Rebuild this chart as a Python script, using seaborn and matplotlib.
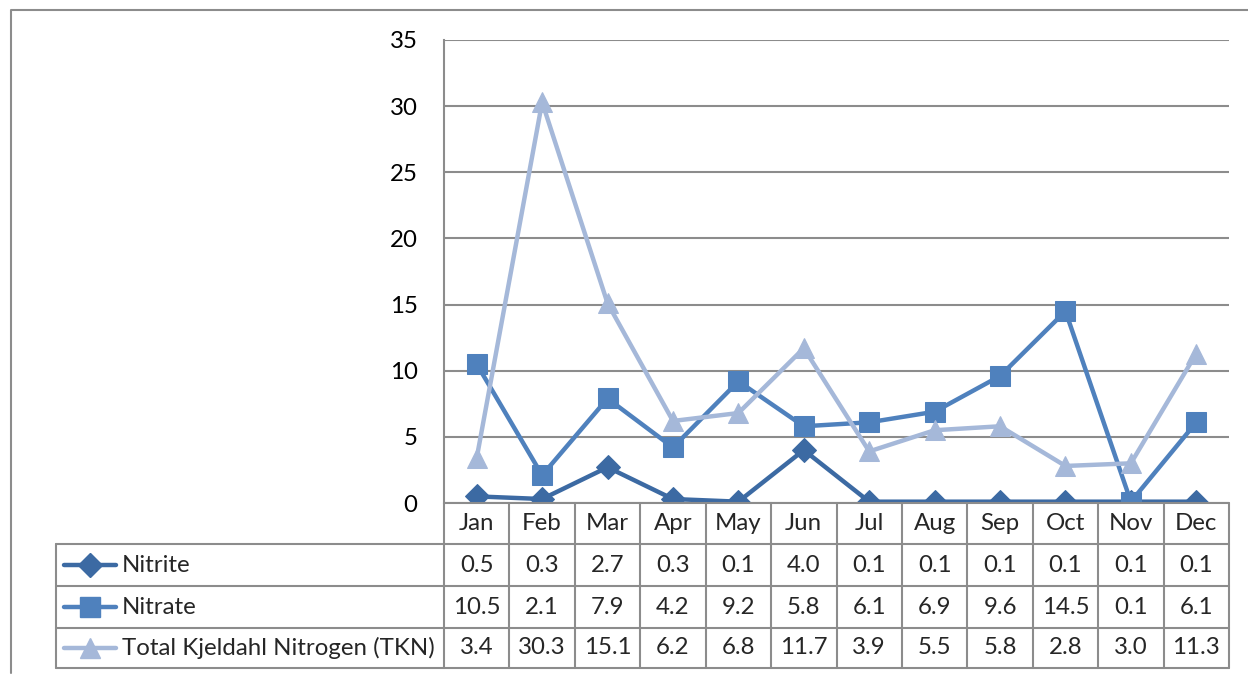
import numpy as np
import pandas as pd
import matplotlib
matplotlib.use('Agg')
import matplotlib.pyplot as plt
import seaborn as sns
from matplotlib.lines import Line2D

months = ['Jan', 'Feb', 'Mar', 'Apr', 'May', 'Jun', 'Jul', 'Aug', 'Sep', 'Oct', 'Nov', 'Dec']
nitrite = [0.5, 0.3, 2.7, 0.3, 0.1, 4.0, 0.1, 0.1, 0.1, 0.1, 0.1, 0.1]
nitrate = [10.5, 2.1, 7.9, 4.2, 9.2, 5.8, 6.1, 6.9, 9.6, 14.5, 0.1, 6.1]
tkn = [3.4, 30.3, 15.1, 6.2, 6.8, 11.7, 3.9, 5.5, 5.8, 2.8, 3.0, 11.3]
series_names = ['Nitrite', 'Nitrate', 'Total Kjeldahl Nitrogen (TKN)']
yticks = [0, 5, 10, 15, 20, 25, 30, 35]

colors = ['#3C6AA3', '#4F81BD', '#A5B8D9']
markers = ['D', 's', '^']
msizes = [12, 14, 15]

sns.set_style('white')
plt.rcParams['font.family'] = ['Lato', 'DejaVu Sans']
FS = 17.3
GRAY = '#8C8C8C'

W, H = 1248, 675
fig = plt.figure(figsize=(W / 100, H / 100), dpi=100)

# pixel helpers
def fx(px):
    return px / W

def fy(py):
    return 1 - py / H

x0, x1, y0, y1 = 444, 1229, 503, 40
ax = fig.add_axes([fx(x0), fy(y0), fx(x1) - fx(x0), fy(y1) - fy(y0)])

df = pd.DataFrame({'idx': np.arange(len(months)), 'Nitrite': nitrite,
                   'Nitrate': nitrate, 'Total Kjeldahl Nitrogen (TKN)': tkn})
for name, c, m, ms in zip(series_names, colors, markers, msizes):
    sns.lineplot(data=df, x='idx', y=name, ax=ax, color=c, marker=m,
                 markersize=ms, markeredgecolor=c, linewidth=3.2, zorder=3)

ax.set_xlim(-0.5, len(months) - 0.5)
ax.set_ylim(0, 35)
ax.set_yticks(yticks)
ax.set_yticklabels([str(v) for v in yticks], fontsize=FS, color='black')
ax.set_xticks([])
ax.set_xlabel('')
ax.set_ylabel('')
ax.tick_params(axis='y', length=5, color=GRAY, pad=14)
ax.grid(axis='y', color=GRAY, linewidth=1.5)
ax.set_axisbelow(True)
for s in ['top', 'right', 'bottom']:
    ax.spines[s].set_visible(False)
ax.spines['left'].set_color(GRAY)
ax.spines['left'].set_linewidth(1.5)

# data table below the axes
rows = [503, 544, 586, 628, 668]
left = 56
col_w = (x1 - x0) / len(months)
lk = dict(color=GRAY, linewidth=1.5, transform=fig.transFigure)

fig.add_artist(Line2D([fx(x0), fx(x1)], [fy(rows[0]), fy(rows[0])], **lk))
for r in rows[1:]:
    fig.add_artist(Line2D([fx(left), fx(x1)], [fy(r), fy(r)], **lk))
for i in range(len(months) + 1):
    xp = x0 + i * col_w
    fig.add_artist(Line2D([fx(xp), fx(xp)], [fy(rows[0]), fy(rows[-1])], **lk))
fig.add_artist(Line2D([fx(left), fx(left)], [fy(rows[1]), fy(rows[-1])], **lk))

for i, mth in enumerate(months):
    xc = x0 + (i + 0.5) * col_w
    fig.text(fx(xc), fy((rows[0] + rows[1]) / 2), mth, ha='center', va='center', fontsize=FS)

values = [nitrite, nitrate, tkn]
for k, (name, vals, c, m, ms) in enumerate(zip(series_names, values, colors, markers, msizes)):
    yc = fy((rows[k + 1] + rows[k + 2]) / 2)
    fig.add_artist(Line2D([fx(64), fx(116)], [yc, yc], color=c, linewidth=3.2,
                          solid_capstyle='round', transform=fig.transFigure))
    fig.add_artist(Line2D([fx(90)], [yc], color=c, marker=m, markersize=ms,
                          markeredgecolor=c, transform=fig.transFigure))
    fig.text(fx(122), yc, name, ha='left', va='center', fontsize=FS)
    for i, v in enumerate(vals):
        xc = x0 + (i + 0.5) * col_w
        fig.text(fx(xc), yc, f'{v:.1f}', ha='center', va='center', fontsize=FS)

# outer chart border (top and left edges visible)
fig.add_artist(Line2D([fx(11), fx(11), 1.0], [fy(673), fy(10), fy(10)],
                      color=GRAY, linewidth=1.5, transform=fig.transFigure))

fig.savefig('out.png', dpi=100)
